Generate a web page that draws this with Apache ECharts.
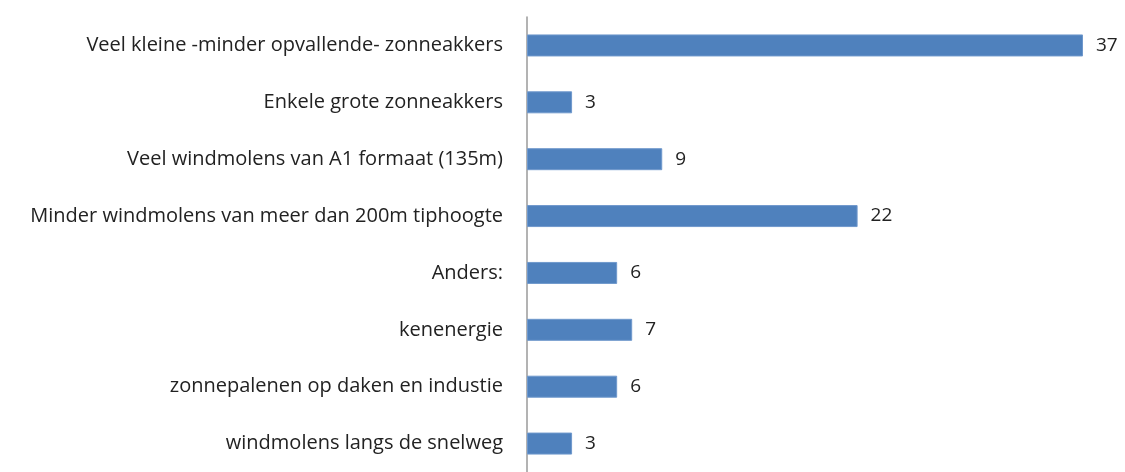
<!DOCTYPE html>
<html>
<head>
<meta charset="utf-8">
<script src="https://cdn.jsdelivr.net/npm/echarts@6/dist/echarts.min.js"></script>
<style>
  html, body { margin: 0; padding: 0; background: #fff; }
  #chart { width: 1125px; height: 472px; }
</style>
</head>
<body>
<div id="chart"></div>
<script>
// answers, top to bottom
const categories = [
  'Veel kleine -minder opvallende- zonneakkers',
  'Enkele grote zonneakkers',
  'Veel windmolens van A1 formaat (135m)',
  'Minder windmolens van meer dan 200m tiphoogte',
  'Anders:',
  'kenenergie',
  'zonnepalenen op daken en industie',
  'windmolens langs de snelweg'
]
const counts = [37, 3, 9, 22, 6, 7, 6, 3]

const chart = echarts.init(document.getElementById('chart'))
chart.setOption({
  backgroundColor: '#fff',
  animation: false,
  grid: { left: 527, right: 42, top: 17, bottom: -5 },
  xAxis: {
    type: 'value',
    min: 0,
    max: 37,
    show: false
  },
  yAxis: {
    type: 'category',
    inverse: true,
    data: categories,
    axisLine: { show: true, lineStyle: { color: '#9a9a9a', width: 1.5 } },
    axisTick: { show: false },
    axisLabel: {
      margin: 24,
      color: '#222',
      fontFamily: 'Open Sans',
      fontSize: 20
    }
  },
  series: [{
    type: 'bar',
    data: counts,
    barWidth: 22,
    itemStyle: { color: '#4f81bd', borderColor: '#6f98cc', borderWidth: 1 },
    label: {
      show: true,
      position: 'right',
      distance: 13,
      color: '#222',
      fontFamily: 'Open Sans',
      fontSize: 19
    }
  }]
})
</script>
</body>
</html>
